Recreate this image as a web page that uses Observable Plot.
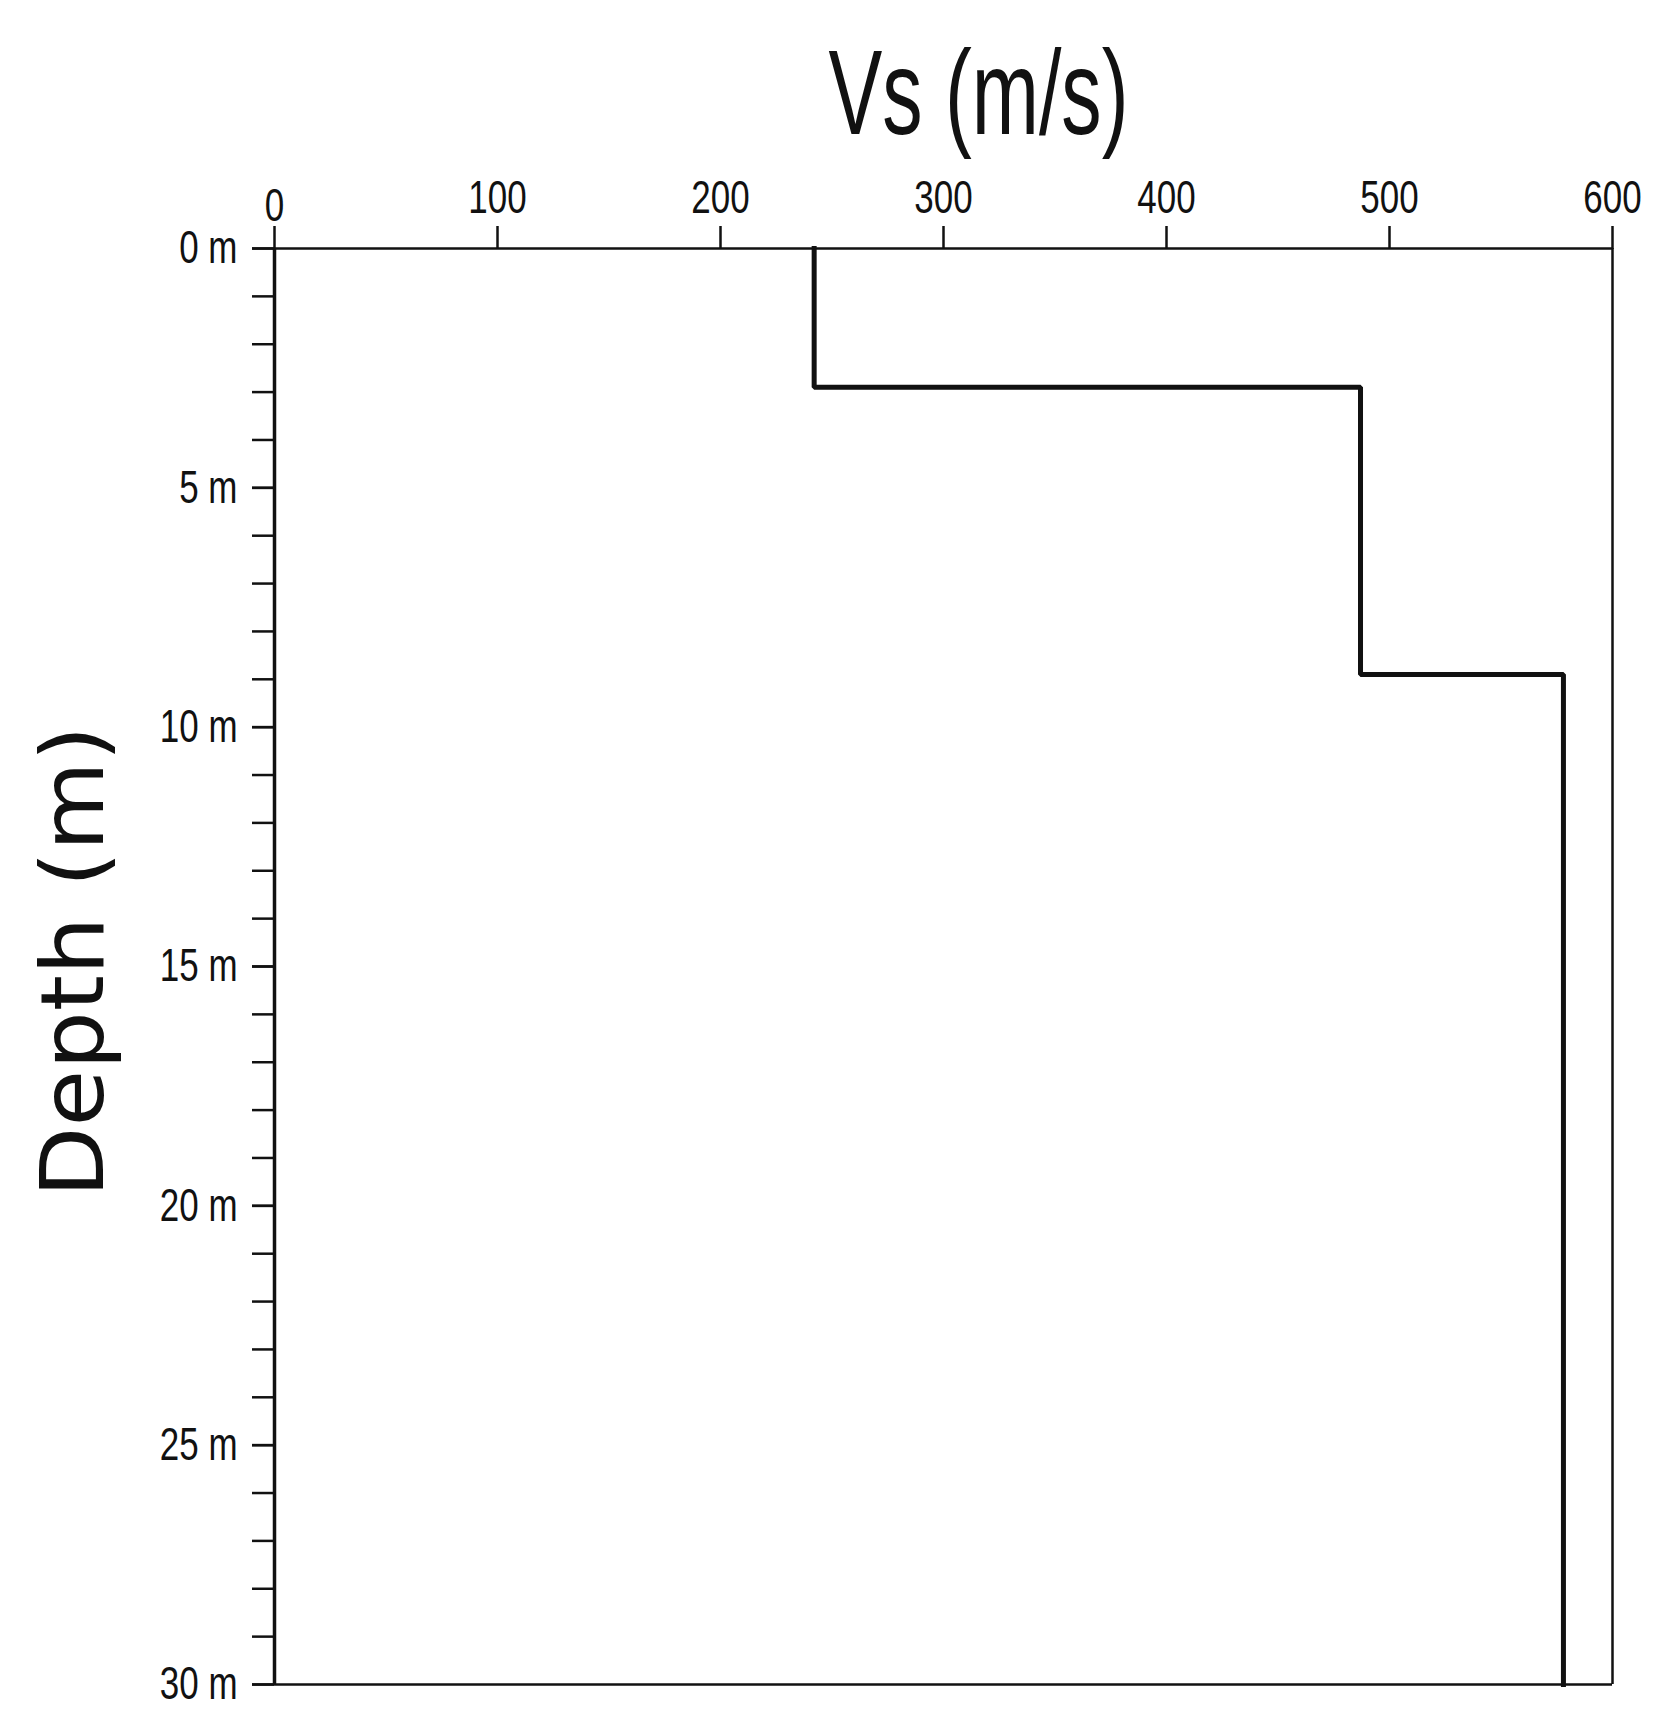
<!DOCTYPE html>
<html><head><meta charset="utf-8">
<script src="https://cdn.jsdelivr.net/npm/d3@7"></script>
<script src="https://cdn.jsdelivr.net/npm/@observablehq/plot@0.6"></script>
<style>body{margin:0;background:#fff}</style>
</head><body><div id="chart"></div>
<script>
// Layered shear-wave velocity profile
const layerTop = [0, 2.9, 8.9];
const layerBottom = [2.9, 8.9, 30];
const layerVs = [242, 487, 578];
const xTickValues = [0, 100, 200, 300, 400, 500, 600];
const yMajorTicks = [0, 5, 10, 15, 20, 25, 30];
const yMinorTicks = d3.range(0, 31, 1);
const xTitle = "Vs (m/s)";
const yTitle = "Depth (m)";

const profile = layerVs.flatMap((v, i) => [
  {vs: v, depth: layerTop[i]},
  {vs: v, depth: layerBottom[i]}
]);

const narrow = "'Liberation Sans Narrow','Arial Narrow','Liberation Sans',Arial,sans-serif";

const chart = Plot.plot({
  width: 1673, height: 1730,
  marginLeft: 274, marginRight: 61, marginTop: 248, marginBottom: 46,
  style: {fontFamily: narrow, fontSize: "46px", color: "#111", background: "#fff", overflow: "visible"},
  x: {domain: [0, 600]},
  y: {domain: [0, 30], reverse: true},
  marks: [
    Plot.axisX(xTickValues.slice(1), {anchor: "top", tickSize: 23, tickPadding: 13, strokeWidth: 2.5, fontSize: 46, label: null}),
    Plot.axisX(xTickValues.slice(0, 1), {anchor: "top", tickSize: 23, tickPadding: 5, strokeWidth: 2.5, fontSize: 46, label: null}),
    Plot.axisY(yMinorTicks, {anchor: "left", tickSize: 22, tickFormat: () => "", strokeWidth: 2.5, label: null}),
    Plot.axisY(yMajorTicks, {anchor: "left", tickSize: 22, tickPadding: 15, tickFormat: d => `${d} m`, strokeWidth: 2.5, fontSize: 46, label: null}),
    Plot.ruleY([0, 30], {strokeWidth: 2.5}),
    Plot.ruleX([600], {strokeWidth: 2.5}),
    Plot.ruleX([0], {strokeWidth: 3.5}),
    Plot.line(profile, {x: "vs", y: "depth", strokeWidth: 5, strokeLinejoin: "miter", strokeLinecap: "square"}),
    Plot.text([xTitle], {frameAnchor: "top", dx: 35, dy: -115, lineAnchor: "bottom", textAnchor: "middle", fontSize: 120, fontFamily: narrow}),
    Plot.text([yTitle], {frameAnchor: "left", rotate: -90, dx: -172, dy: -5, lineAnchor: "bottom", textAnchor: "middle", fontSize: 88, fontFamily: "'DejaVu Sans',sans-serif"})
  ]
});

document.getElementById("chart").appendChild(chart);

chart.querySelectorAll("text").forEach(t => {
  const s = t.textContent;
  if (s === xTitle) { t.setAttribute("textLength", 300); t.setAttribute("lengthAdjust", "spacingAndGlyphs"); }
  else if (s === yTitle) { t.setAttribute("textLength", 472); t.setAttribute("lengthAdjust", "spacingAndGlyphs"); }
  else if (s.trim() !== "") {
    const w = t.getComputedTextLength();
    t.setAttribute("textLength", (w * 0.76).toFixed(1));
    t.setAttribute("lengthAdjust", "spacingAndGlyphs");
  }
});
</script>
</body></html>
